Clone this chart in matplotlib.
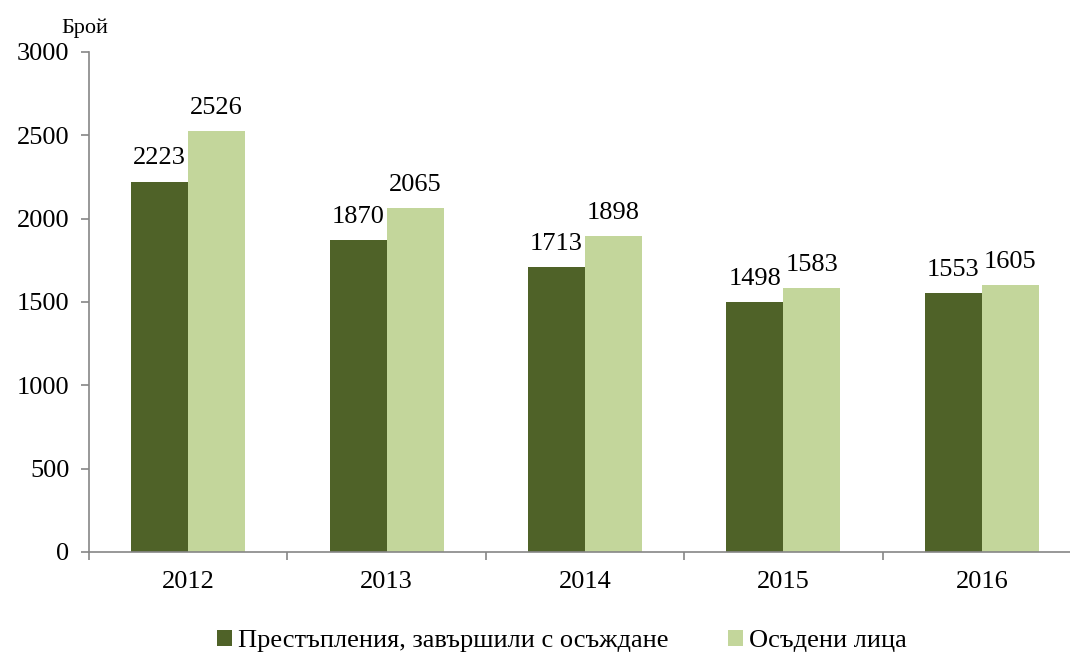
import matplotlib
matplotlib.use("Agg")
import matplotlib.pyplot as plt
import numpy as np

years = ["2012", "2013", "2014", "2015", "2016"]
crimes = [2223, 1870, 1713, 1498, 1553]
persons = [2526, 2065, 1898, 1583, 1605]
series_names = ["Престъпления, завършили с осъждане", "Осъдени лица"]

plt.rcParams['font.family'] = ['Liberation Serif', 'DejaVu Serif']

fig = plt.figure(figsize=10.7 * np.array([1, 652/1070]), dpi=100)
ax = fig.add_axes([89/1070, 100/652, (1081-89)/1070, 500/652])

x = np.arange(len(years))
w = 0.287
c1 = "#4F6228"
c2 = "#C3D69B"
b1 = ax.bar(x - w/2, crimes, w, color=c1, label=series_names[0])
b2 = ax.bar(x + w/2, persons, w, color=c2, label=series_names[1])

for rect, v in zip(b1, crimes):
    ax.text(rect.get_x() + rect.get_width()/2, v + 72, str(v), ha='center', va='bottom', fontsize=19)
for rect, v in zip(b2, persons):
    ax.text(rect.get_x() + rect.get_width()/2, v + 72, str(v), ha='center', va='bottom', fontsize=19)

ax.set_xlim(-0.5, len(years) - 0.5)
ax.set_ylim(0, 3000)
ax.set_yticks(range(0, 3001, 500))
ax.tick_params(axis='y', labelsize=19, direction='out', length=6, color='#868686', width=1.2, pad=8)
ax.set_xticks(x)
ax.set_xticklabels(years)
ax.tick_params(axis='x', which='major', length=0, labelsize=19, pad=14)
ax.set_xticks(np.arange(-0.5, len(years), 1), minor=True)
ax.tick_params(axis='x', which='minor', length=6, direction='out', color='#868686', width=1.2)

for s in ['top', 'right']:
    ax.spines[s].set_visible(False)
for s in ['left', 'bottom']:
    ax.spines[s].set_color('#868686')
    ax.spines[s].set_linewidth(1.2)

fig.text(61/1070, 1 - 28/652, "Брой", fontsize=16, ha='left', va='center')

fig.legend(handles=[b1, b2], labels=series_names, loc='center', bbox_to_anchor=(0.525, 1 - 641/652),
           ncol=2, frameon=False, fontsize=19, handlelength=0.57, handleheight=0.57,
           handletextpad=0.23, columnspacing=2.27)

fig.savefig("out.png", dpi=100)
